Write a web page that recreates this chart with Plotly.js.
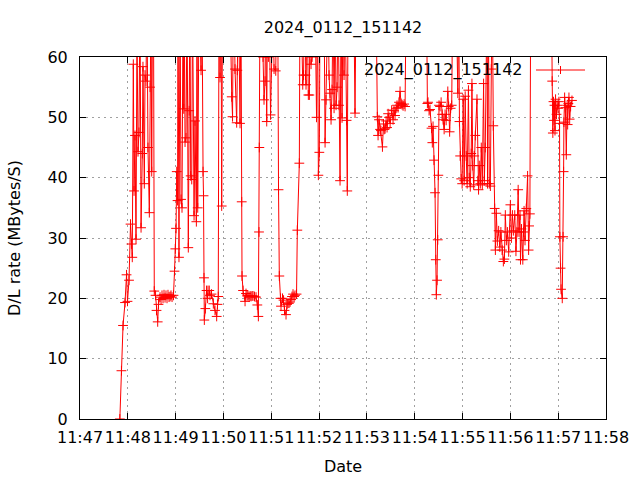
<!DOCTYPE html>
<html>
<head>
<meta charset="utf-8">
<script src="https://cdn.plot.ly/plotly-3.0.1.min.js"></script>
<style>html,body{margin:0;padding:0;background:#fff;}#chart{width:640px;height:480px;}</style>
</head>
<body>
<div id="chart"></div>
<script>
// seconds after 11:47:00 on 2024-01-12
var secs = [50,52,54,56.5,58.4,59.6,61.5,63.4,64.6,65.6,66.9,67.8,69,70.3,71.5,72.8,74,75.3,76.6,78.2,79,80.7,81.6,82.8,84,85.3,87,87.9,89.1,90,91,92.2,93.2,94.8,96,97.5,98.5,100.4,101.7,102.9,104.2,105.4,106.7,107.9,109.2,110.4,111.7,113,114.2,115.5,117.3,118.6,119.6,120.5,121.4,122.4,123,124.2,125.5,126.8,128,129.3,130.2,131,131.8,133,134.3,135.9,137,138,138.9,140.2,141.2,143.1,144.3,146,146.8,147.7,149.3,151.9,153.1,154.4,155,155.6,156,157.3,158.8,160.1,160.6,162.2,163.1,165,167.3,169.4,171.5,172.5,173.5,174.4,175.7,177,177.8,178.8,180.7,183.3,185.8,187,188.2,190.4,191.4,192,193.3,194.5,196.6,197.4,198.9,200.8,202,202.9,203.3,204.6,207.1,208.3,209.6,210.8,212.1,213.4,214.6,215.9,217.1,219,220.9,222.5,223.8,224.6,225,225.9,227.2,228.4,229.7,230.9,232.2,232.8,234.3,235.3,236.4,237.2,239.1,240.3,242.2,243.5,245.6,246.6,248.1,249.1,250.1,251.6,252.2,254.1,255.4,256.6,258.5,259.8,261,262.3,263.6,264.8,266,267.3,268.6,269.8,271.7,272.7,275.2,276,277.3,279.5,280.5,281.8,283,283.6,284.9,286.5,287.8,288.7,289.9,291.2,293,294.9,296.8,298.1,299.1,300.3,301.2,302.5,303.7,305,306.2,307.5,308.7,309.7,311.2,312.5,313.8,315,316.3,317.5,318.8,320,321.3,322.6,323.8,325,326.3,327.6,328.8,330.1,331.3,332.6,334.5,335.4,336.3,338.9,341.4,343.9,345.1,346.4,350,355,360,366,371.5,
373.1,374,375.2,376.5,377.6,379.5,380.8,381.7,382.8,384.1,385.3,386.6,387.8,389.1,391.1,392.8,394,395.3,396.6,397.8,399.1,400.3,401.6,402.9,404.1,405.4,406.7,407.9,409.2,411.7,416.7,421.7,426.7,431.7,434.8,435.9,436.7,438,439.2,441.1,442.1,443,444.2,445.5,446.4,447.1,448,448.9,449.6,450.5,451.8,453.1,454.3,455.6,456.9,458.1,459.4,461.5,462.6,463.8,465.1,466.4,467.6,469.5,472,474.1,475.2,476.1,477,478.3,479.5,480.8,482,483.3,484.6,485.8,487.4,488.4,489.7,490.9,491.8,492.8,494,494.7,496,498.1,499.1,500.1,501,502.3,503.5,504.8,506.4,507.3,508.5,510.7,511.4,512.4,513.6,514.9,516.1,517.4,518.6,520.3,521.2,522.4,523.7,525.3,526.8,528.1,529.6,531.2,532.5,533.7,535,536.3,537.9,540,541.3,542.6,543.8,545.5,547,548.3,549.8,550.8,552.1,552.7,554,555.6,556.5,557.2,558.4,560,561.6,562.9,563.5,564.5,565.5,570.3,577.8,585.3,591.6,592.5,593.3,594.1,594.8,595.4,596,596.7,597.9,598.8,599.8,600.9,601.7,602.1,603,603.6,605.1,606.2,606.8,607.2,608.1,609,610.2,611.2,611.9,612.8,613.5,614.4,615.6,617.3];

var rates = [0,8,15.5,19.3,23.9,19.5,23,32.3,29,26.8,58.8,37.8,47,29.8,65,44.3,47.5,70,31.7,44,58.4,39,57,56,70,45,34.2,55,70,41,70,70,21.2,20.5,18,16.1,19,20.2,19.8,20.5,20,20.6,20.1,20.5,20,20.6,20.2,20.3,20.5,20.2,20.5,24.5,28.2,31.6,41,36.2,70,26.8,70,36.4,35,70,51.4,65,45.9,46.6,70,28.4,51.1,70,40.3,39.7,70,33.7,49.4,32.7,70,35,70,57.8,70,41,37,23.4,16.4,18.3,21.3,20,21.3,21.3,20.5,20.7,19.1,18,17,19,20.3,70,56.6,70,35.3,70,70,70,70,65,70,53.4,50.1,62,70,58,49.1,57.8,70,49,70,36,23.7,21.3,19.5,20.8,20.4,20.5,20.2,20.4,20.3,20.4,20.4,20.3,20.2,18.9,17,31,45,70,65,70,60,52.9,56,70,49.3,70,60,70,50.4,70,70,58,57.7,70,70,38,23.7,20,18.7,20,19.7,18,17.3,19,19.2,19.2,19.4,19.8,20.3,20.7,20.3,20.5,20.7,31.3,42.4,70,70,55.4,57,70,57,55.4,70,53.7,53.7,70,58.8,60,70,70,50,70,40.4,44.2,70,70,70,63,70,45.8,52.9,70,70,57,54,49.6,54.6,70,51.5,70,52,55,70,52,39.5,70,49.9,70,57,70,49.5,37.8,70,70,70,65,50.7,70,70,70,70,70,70,
50.1,47,49.6,48,47.8,45.1,48.9,48,48.1,49.4,48.3,50.6,50,49,51.2,49.6,51.1,50.3,51.5,52,51.6,52.5,54.3,52.3,52.1,51.9,52.2,51.8,70,70,70,70,70,70,70,52.3,52.5,51.1,51.3,48.2,45.8,48.5,42.9,37.5,26.4,20.6,23,29.7,40.4,52,51.8,52.5,50.5,49.6,48,50.5,49.5,54.3,51.8,47.6,51.5,52,70,70,70,54,70,49.3,43.6,39.8,39,53,39.5,53.5,43.6,39,54.5,40,38.5,44,55.6,42,38.8,43.6,47,53,39.5,38,42,39,45,38.8,55.6,39.5,45,70,39,70,39,38.6,58,70,48.6,34.9,28,34.1,29.5,31.2,28.5,31,28,26.1,26.5,33.8,29.6,31,27.7,35.5,30,33.8,31.2,33.8,27.8,31,38,31,33.8,26.4,31.5,26.4,31,34.5,29.6,34.9,40.3,28,32,34,70,70,70,70,70,56,47.4,52.6,49.5,52,47.8,53,50.5,52,51.5,52.6,49,30.2,25,21.5,20,30.2,41,49.2,53.3,51.6,43.8,52,48.8,52.3,53.3,49.7,51.8,52.8];

var seriesName = '2024_0112_151142';
var xTickLabels = ['11:47','11:48','11:49','11:50','11:51','11:52','11:53','11:54','11:55','11:56','11:57','11:58'];

function pad(n){ return (n<10?'0':'')+n; }
function toDate(s){
  var m = 47 + Math.floor(s/60);
  var sec = s - Math.floor(s/60)*60;
  var si = Math.floor(sec);
  var frac = Math.round((sec - si)*1000);
  var fs = frac ? '.' + ('00'+frac).slice(-3) : '';
  return '2024-01-12 11:' + pad(m) + ':' + pad(si) + fs;
}
var xs = secs.map(toDate);
var tickVals = xTickLabels.map(function(t){ return '2024-01-12 ' + t + ':00'; });

var font = {family: 'DejaVu Sans, sans-serif', size: 16, color: '#000'};

var trace = {
  x: xs, y: rates, type: 'scatter', mode: 'lines+markers', name: seriesName,
  line: {color: '#ff0000', width: 1},
  marker: {symbol: 'cross-thin-open', size: 7, color: '#ff0000', line: {color: '#ff0000', width: 1}},
  showlegend: false, cliponaxis: true
};

var layout = {
  width: 640, height: 480,
  margin: {l: 80, r: 34, t: 57, b: 61, pad: 0},
  paper_bgcolor: '#fff', plot_bgcolor: '#fff',
  font: font,
  title: {text: seriesName, font: font, x: 0.5, xref: 'paper', y: 1 - 27/480, yref: 'container', yanchor: 'middle'},
  xaxis: {
    type: 'date', range: [tickVals[0], tickVals[tickVals.length-1]],
    tickmode: 'array', tickvals: tickVals, ticktext: xTickLabels, tickangle: 0,
    ticks: 'inside', ticklen: 6, tickcolor: '#000', mirror: 'allticks',
    showline: true, linecolor: '#000', linewidth: 1,
    showgrid: true, gridcolor: '#a0a0a0', griddash: '2px,4px', gridwidth: 1,
    zeroline: false, tickfont: font, automargin: false, ticklabelstandoff: 4,
    title: {text: 'Date', font: font, standoff: 14}
  },
  yaxis: {
    range: [0, 60], dtick: 10, tick0: 0,
    ticks: 'inside', ticklen: 6, tickcolor: '#000', mirror: 'allticks',
    showline: true, linecolor: '#000', linewidth: 1,
    showgrid: true, gridcolor: '#a0a0a0', griddash: '2px,4px', gridwidth: 1,
    zeroline: false, tickfont: font, automargin: false, ticklabelstandoff: 8,
    title: {text: 'D/L rate (MBytes/S)', font: font, standoff: 22}
  },
  annotations: [{
    xref: 'paper', yref: 'paper', x: 445/526, y: 1 - 13/362, xanchor: 'right', yanchor: 'middle',
    text: seriesName, showarrow: false, font: font
  }],
  shapes: [
    {type: 'line', xref: 'paper', yref: 'paper', x0: 456/526, x1: 505/526, y0: 1 - 13/362, y1: 1 - 13/362, line: {color: '#ff0000', width: 1}},
    {type: 'line', xref: 'paper', yref: 'paper', x0: 480.5/526, x1: 480.5/526, y0: 1 - 9/362, y1: 1 - 17/362, line: {color: '#ff0000', width: 1}}
  ]
};

Plotly.newPlot('chart', [trace], layout, {staticPlot: true, displayModeBar: false});
</script>
</body>
</html>
